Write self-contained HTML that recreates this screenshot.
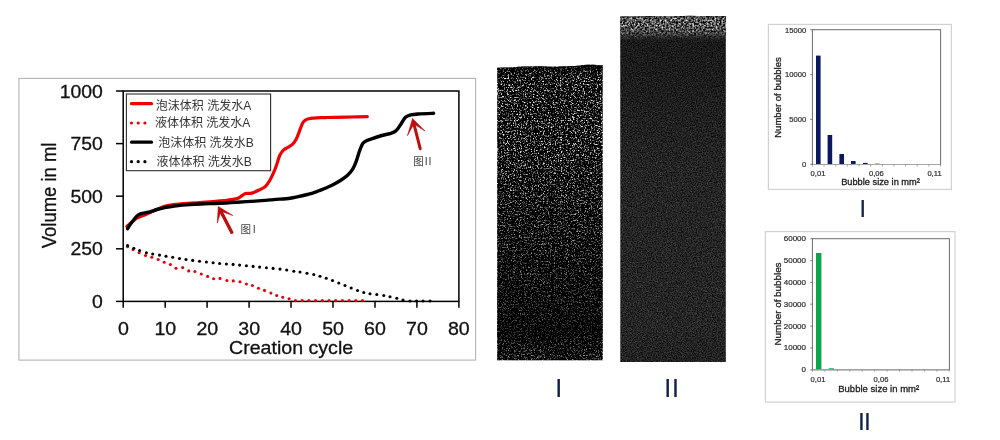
<!DOCTYPE html>
<html lang="zh">
<head>
<meta charset="utf-8">
<title>Foam volume and bubble size</title>
<style>
html,body{margin:0;padding:0;background:#fff;}
body{width:1000px;height:440px;overflow:hidden;position:relative;font-family:'Liberation Sans','Noto Sans CJK SC',sans-serif;}
</style>
</head>
<body>
<svg width="1000" height="440" viewBox="0 0 1000 440" style="display:block;position:absolute;left:0;top:0" font-family="'Liberation Sans','Noto Sans CJK SC',sans-serif">
<defs>
<filter id="nz1" x="0" y="0" width="100%" height="100%" color-interpolation-filters="sRGB">
<feTurbulence type="fractalNoise" baseFrequency="0.7" numOctaves="2" seed="7" result="t"/>
<feColorMatrix in="t" type="matrix" values="0 0 0 3.4 -1.86  0 0 0 3.4 -1.86  0 0 0 3.4 -1.86  0 0 0 0 1"/>
<feGaussianBlur stdDeviation="0.4" result="ab"/>
<feTurbulence type="fractalNoise" baseFrequency="0.83" numOctaves="1" seed="29" result="u"/>
<feColorMatrix in="u" type="matrix" values="0 0 0 0 1  0 0 0 0 1  0 0 0 0 1  0 0 0 7.0 -4.2"/>
<feGaussianBlur stdDeviation="0.3" result="d"/>
<feMerge><feMergeNode in="ab"/><feMergeNode in="d"/></feMerge>
</filter>
<filter id="nz2" x="0" y="0" width="100%" height="100%" color-interpolation-filters="sRGB">
<feTurbulence type="fractalNoise" baseFrequency="0.8" numOctaves="2" seed="3" result="t"/>
<feColorMatrix in="t" type="matrix" values="0 0 0 0.42 -0.065  0 0 0 0.42 -0.065  0 0 0 0.42 -0.065  0 0 0 0 1"/>
<feGaussianBlur stdDeviation="0.35"/>
</filter>
<filter id="nz3" x="0" y="0" width="100%" height="100%" color-interpolation-filters="sRGB">
<feTurbulence type="fractalNoise" baseFrequency="0.55" numOctaves="2" seed="11" result="t"/>
<feColorMatrix in="t" type="matrix" values="0 0 0 2.1 -0.7  0 0 0 2.1 -0.7  0 0 0 2.1 -0.7  0 0 0 0 1"/>
<feGaussianBlur stdDeviation="0.4"/>
</filter>
<linearGradient id="g2" x1="0" y1="0" x2="0" y2="1">
<stop offset="0" stop-color="#fff" stop-opacity="1"/><stop offset="0.55" stop-color="#fff" stop-opacity="0.85"/><stop offset="1" stop-color="#fff" stop-opacity="0"/>
</linearGradient>
<mask id="m2"><rect x="620" y="16" width="106" height="24" fill="url(#g2)"/></mask>
<linearGradient id="sh1" gradientUnits="userSpaceOnUse" x1="0" y1="66" x2="0" y2="360.3">
<stop offset="0" stop-color="#000" stop-opacity="0.8"/><stop offset="0.012" stop-color="#000" stop-opacity="0.4"/><stop offset="0.04" stop-color="#000" stop-opacity="0"/><stop offset="0.3" stop-color="#000" stop-opacity="0.05"/><stop offset="0.55" stop-color="#000" stop-opacity="0.36"/><stop offset="0.78" stop-color="#000" stop-opacity="0.55"/><stop offset="0.9" stop-color="#000" stop-opacity="0.7"/><stop offset="0.96" stop-color="#000" stop-opacity="0.5"/><stop offset="1" stop-color="#000" stop-opacity="0.35"/>
</linearGradient>
<linearGradient id="sh2" gradientUnits="userSpaceOnUse" x1="0" y1="16" x2="0" y2="362">
<stop offset="0" stop-color="#000" stop-opacity="0.55"/><stop offset="0.006" stop-color="#000" stop-opacity="0"/><stop offset="0.05" stop-color="#000" stop-opacity="0"/><stop offset="0.075" stop-color="#000" stop-opacity="0.3"/><stop offset="0.2" stop-color="#000" stop-opacity="0.22"/><stop offset="0.45" stop-color="#000" stop-opacity="0.02"/><stop offset="0.9" stop-color="#000" stop-opacity="0"/><stop offset="1" stop-color="#000" stop-opacity="0.12"/>
</linearGradient>
<clipPath id="c1"><path d="M497.2,67.8 L505,67.6 L514,67.2 L521,66.6 L530,66.4 L538,66.2 L546,66.5 L552,66.7 L560,66.5 L568,66.3 L575,66 L580,65.6 L586,64.8 L594,64.8 L599,65.2 L602.7,65.3 L602.7,360.3 L497.2,360.3 Z"/></clipPath>
<clipPath id="c2"><path d="M620.3,16.6 L640,16.4 L655,16 L670,16.6 L690,15.8 L705,16.2 L725.8,16.2 L725.8,362 L620.3,362 Z"/></clipPath>
</defs>
<rect width="1000" height="440" fill="#fff"/>
<g id="leftchart">
<rect x="18.9" y="78.4" width="456.7" height="281.7" fill="#fff" stroke="#b4b4b4" stroke-width="1.1"/>
<rect x="123.2" y="91.0" width="335.7" height="210.4" fill="none" stroke="#000" stroke-width="1.5"/>
<line x1="116.0" y1="91.0" x2="123.2" y2="91.0" stroke="#000" stroke-width="1.5"/>
<line x1="116.0" y1="143.6" x2="123.2" y2="143.6" stroke="#000" stroke-width="1.5"/>
<line x1="116.0" y1="196.2" x2="123.2" y2="196.2" stroke="#000" stroke-width="1.5"/>
<line x1="116.0" y1="248.8" x2="123.2" y2="248.8" stroke="#000" stroke-width="1.5"/>
<line x1="116.0" y1="301.4" x2="123.2" y2="301.4" stroke="#000" stroke-width="1.5"/>
<line x1="123.2" y1="301.4" x2="123.2" y2="307.7" stroke="#000" stroke-width="1.5"/>
<line x1="165.2" y1="301.4" x2="165.2" y2="307.7" stroke="#000" stroke-width="1.5"/>
<line x1="207.1" y1="301.4" x2="207.1" y2="307.7" stroke="#000" stroke-width="1.5"/>
<line x1="249.1" y1="301.4" x2="249.1" y2="307.7" stroke="#000" stroke-width="1.5"/>
<line x1="291.0" y1="301.4" x2="291.0" y2="307.7" stroke="#000" stroke-width="1.5"/>
<line x1="333.0" y1="301.4" x2="333.0" y2="307.7" stroke="#000" stroke-width="1.5"/>
<line x1="375.0" y1="301.4" x2="375.0" y2="307.7" stroke="#000" stroke-width="1.5"/>
<line x1="416.9" y1="301.4" x2="416.9" y2="307.7" stroke="#000" stroke-width="1.5"/>
<line x1="458.9" y1="301.4" x2="458.9" y2="307.7" stroke="#000" stroke-width="1.5"/>
<text transform="translate(102.9,97.5) scale(1.06,1)" font-size="18.3" text-anchor="end" fill="#111" stroke="#111" stroke-width="0.3">1000</text>
<text transform="translate(102.9,150.1) scale(1.06,1)" font-size="18.3" text-anchor="end" fill="#111" stroke="#111" stroke-width="0.3">750</text>
<text transform="translate(102.9,202.7) scale(1.06,1)" font-size="18.3" text-anchor="end" fill="#111" stroke="#111" stroke-width="0.3">500</text>
<text transform="translate(102.9,255.2) scale(1.06,1)" font-size="18.3" text-anchor="end" fill="#111" stroke="#111" stroke-width="0.3">250</text>
<text transform="translate(102.9,307.8) scale(1.06,1)" font-size="18.3" text-anchor="end" fill="#111" stroke="#111" stroke-width="0.3">0</text>
<text transform="translate(123.4,334.5) scale(1.07,1)" font-size="18.3" text-anchor="middle" fill="#111" stroke="#111" stroke-width="0.3">0</text>
<text transform="translate(165.3,334.5) scale(1.07,1)" font-size="18.3" text-anchor="middle" fill="#111" stroke="#111" stroke-width="0.3">10</text>
<text transform="translate(207.3,334.5) scale(1.07,1)" font-size="18.3" text-anchor="middle" fill="#111" stroke="#111" stroke-width="0.3">20</text>
<text transform="translate(249.2,334.5) scale(1.07,1)" font-size="18.3" text-anchor="middle" fill="#111" stroke="#111" stroke-width="0.3">30</text>
<text transform="translate(291.1,334.5) scale(1.07,1)" font-size="18.3" text-anchor="middle" fill="#111" stroke="#111" stroke-width="0.3">40</text>
<text transform="translate(333.1,334.5) scale(1.07,1)" font-size="18.3" text-anchor="middle" fill="#111" stroke="#111" stroke-width="0.3">50</text>
<text transform="translate(375.0,334.5) scale(1.07,1)" font-size="18.3" text-anchor="middle" fill="#111" stroke="#111" stroke-width="0.3">60</text>
<text transform="translate(416.9,334.5) scale(1.07,1)" font-size="18.3" text-anchor="middle" fill="#111" stroke="#111" stroke-width="0.3">70</text>
<text transform="translate(458.8,334.5) scale(1.07,1)" font-size="18.3" text-anchor="middle" fill="#111" stroke="#111" stroke-width="0.3">80</text>
<text transform="translate(291.1,353.8) scale(1.06,1)" font-size="18.5" text-anchor="middle" fill="#111" stroke="#111" stroke-width="0.3">Creation cycle</text>
<text transform="translate(56.0,195.4) rotate(-90) scale(0.9,1)" font-size="20.5" text-anchor="middle" fill="#111" stroke="#111" stroke-width="0.3">Volume in ml</text>
<circle cx="127.6" cy="246.7" r="1.55" fill="#e8000b"/><circle cx="133.1" cy="249.6" r="1.55" fill="#e8000b"/><circle cx="139.1" cy="252.7" r="1.55" fill="#e8000b"/><circle cx="145.5" cy="255.5" r="1.55" fill="#e8000b"/><circle cx="151.8" cy="257.3" r="1.55" fill="#e8000b"/><circle cx="158.2" cy="259.5" r="1.55" fill="#e8000b"/><circle cx="164.2" cy="262.2" r="1.55" fill="#e8000b"/><circle cx="170.4" cy="264.5" r="1.55" fill="#e8000b"/><circle cx="176.0" cy="268.2" r="1.55" fill="#e8000b"/><circle cx="182.7" cy="267.6" r="1.55" fill="#e8000b"/><circle cx="188.7" cy="270.9" r="1.55" fill="#e8000b"/><circle cx="194.9" cy="271.5" r="1.55" fill="#e8000b"/><circle cx="201.3" cy="274.0" r="1.55" fill="#e8000b"/><circle cx="207.6" cy="276.4" r="1.55" fill="#e8000b"/><circle cx="213.6" cy="278.7" r="1.55" fill="#e8000b"/><circle cx="220.0" cy="278.4" r="1.55" fill="#e8000b"/><circle cx="226.9" cy="280.5" r="1.55" fill="#e8000b"/><circle cx="233.3" cy="280.9" r="1.55" fill="#e8000b"/><circle cx="240.0" cy="281.8" r="1.55" fill="#e8000b"/><circle cx="246.4" cy="284.0" r="1.55" fill="#e8000b"/><circle cx="252.4" cy="285.5" r="1.55" fill="#e8000b"/><circle cx="258.5" cy="288.2" r="1.55" fill="#e8000b"/><circle cx="264.5" cy="290.4" r="1.55" fill="#e8000b"/><circle cx="270.9" cy="293.1" r="1.55" fill="#e8000b"/><circle cx="276.7" cy="295.5" r="1.55" fill="#e8000b"/><circle cx="282.7" cy="297.3" r="1.55" fill="#e8000b"/><circle cx="289.1" cy="298.7" r="1.55" fill="#e8000b"/><circle cx="295.5" cy="300.6" r="1.55" fill="#e8000b"/><circle cx="302.2" cy="300.6" r="1.55" fill="#e8000b"/><circle cx="308.9" cy="300.6" r="1.55" fill="#e8000b"/><circle cx="315.6" cy="300.6" r="1.55" fill="#e8000b"/><circle cx="322.3" cy="300.6" r="1.55" fill="#e8000b"/><circle cx="329.0" cy="300.6" r="1.55" fill="#e8000b"/><circle cx="335.7" cy="300.6" r="1.55" fill="#e8000b"/><circle cx="342.4" cy="300.6" r="1.55" fill="#e8000b"/><circle cx="349.1" cy="300.6" r="1.55" fill="#e8000b"/><circle cx="355.8" cy="300.6" r="1.55" fill="#e8000b"/><circle cx="362.5" cy="300.6" r="1.55" fill="#e8000b"/>
<circle cx="127.6" cy="245.5" r="1.55" fill="#000"/><circle cx="133.8" cy="248.2" r="1.55" fill="#000"/><circle cx="139.6" cy="250.5" r="1.55" fill="#000"/><circle cx="146.4" cy="252.7" r="1.55" fill="#000"/><circle cx="152.7" cy="254.0" r="1.55" fill="#000"/><circle cx="159.5" cy="255.1" r="1.55" fill="#000"/><circle cx="166.0" cy="256.2" r="1.55" fill="#000"/><circle cx="172.7" cy="257.3" r="1.55" fill="#000"/><circle cx="179.5" cy="258.5" r="1.55" fill="#000"/><circle cx="186.0" cy="259.5" r="1.55" fill="#000"/><circle cx="192.7" cy="260.4" r="1.55" fill="#000"/><circle cx="199.5" cy="261.3" r="1.55" fill="#000"/><circle cx="206.4" cy="262.0" r="1.55" fill="#000"/><circle cx="213.1" cy="262.7" r="1.55" fill="#000"/><circle cx="219.6" cy="263.5" r="1.55" fill="#000"/><circle cx="226.4" cy="264.0" r="1.55" fill="#000"/><circle cx="233.1" cy="264.4" r="1.55" fill="#000"/><circle cx="239.6" cy="265.1" r="1.55" fill="#000"/><circle cx="246.4" cy="265.8" r="1.55" fill="#000"/><circle cx="253.1" cy="266.4" r="1.55" fill="#000"/><circle cx="259.6" cy="267.1" r="1.55" fill="#000"/><circle cx="266.4" cy="267.8" r="1.55" fill="#000"/><circle cx="273.1" cy="268.4" r="1.55" fill="#000"/><circle cx="280.0" cy="269.1" r="1.55" fill="#000"/><circle cx="286.7" cy="270.0" r="1.55" fill="#000"/><circle cx="293.8" cy="271.3" r="1.55" fill="#000"/><circle cx="300.0" cy="272.0" r="1.55" fill="#000"/><circle cx="307.0" cy="273.3" r="1.55" fill="#000"/><circle cx="313.8" cy="274.5" r="1.55" fill="#000"/><circle cx="320.0" cy="276.3" r="1.55" fill="#000"/><circle cx="326.2" cy="278.3" r="1.55" fill="#000"/><circle cx="332.5" cy="280.5" r="1.55" fill="#000"/><circle cx="338.8" cy="283.0" r="1.55" fill="#000"/><circle cx="345.0" cy="285.5" r="1.55" fill="#000"/><circle cx="351.2" cy="288.0" r="1.55" fill="#000"/><circle cx="357.5" cy="290.5" r="1.55" fill="#000"/><circle cx="363.8" cy="292.5" r="1.55" fill="#000"/><circle cx="370.0" cy="293.8" r="1.55" fill="#000"/><circle cx="376.8" cy="294.5" r="1.55" fill="#000"/><circle cx="383.8" cy="295.5" r="1.55" fill="#000"/><circle cx="390.0" cy="296.8" r="1.55" fill="#000"/><circle cx="396.8" cy="298.3" r="1.55" fill="#000"/><circle cx="403.0" cy="300.0" r="1.55" fill="#000"/><circle cx="410.0" cy="301.0" r="1.55" fill="#000"/><circle cx="416.5" cy="301.0" r="1.55" fill="#000"/><circle cx="423.0" cy="301.0" r="1.55" fill="#000"/><circle cx="430.0" cy="301.0" r="1.55" fill="#000"/>
<path d="M126.9,226.4C127.8,225.7 130.3,223.4 132.0,222.0C133.7,220.6 134.9,219.1 137.3,217.8C139.7,216.5 143.4,215.5 146.4,214.2C149.4,212.9 152.5,211.3 155.5,210.0C158.5,208.7 161.5,207.3 164.5,206.4C167.5,205.5 169.0,205.1 173.6,204.5C178.2,203.9 185.7,203.5 191.8,203.1C197.9,202.7 203.9,202.3 210.0,201.8C216.1,201.3 223.6,200.6 228.2,200.0C232.8,199.4 235.2,199.1 237.3,198.5C239.4,197.9 239.5,197.2 240.9,196.4C242.3,195.6 243.7,194.2 245.5,193.6C247.3,193.0 249.5,193.7 251.8,193.1C254.1,192.5 256.8,191.1 259.1,190.0C261.4,188.9 263.7,188.1 265.5,186.4C267.3,184.7 268.6,182.3 270.0,180.0C271.4,177.7 272.5,175.1 273.6,172.7C274.7,170.3 275.4,168.3 276.4,165.5C277.4,162.7 278.4,158.5 279.5,156.0C280.6,153.5 281.7,151.9 283.0,150.5C284.3,149.1 285.9,148.6 287.5,147.5C289.1,146.4 291.3,145.5 292.7,144.2C294.1,142.9 295.0,141.3 296.0,139.5C297.0,137.7 297.8,135.6 298.6,133.5C299.4,131.4 300.2,128.9 301.0,127.0C301.8,125.0 302.4,123.1 303.5,121.8C304.6,120.5 305.9,119.7 307.3,119.1C308.7,118.5 310.5,118.4 312.0,118.2C313.5,118.0 314.2,117.9 316.4,117.8C318.6,117.7 322.0,117.7 325.0,117.6C328.0,117.5 330.3,117.4 334.5,117.3C338.7,117.2 344.5,117.1 350.0,117.0C355.5,116.9 364.4,116.8 367.3,116.7" fill="none" stroke="#f00000" stroke-width="3.2" stroke-linecap="round" stroke-linejoin="round"/>
<path d="M127.6,228.7C128.1,227.9 129.5,225.4 130.5,224.0C131.5,222.6 132.6,221.2 133.6,220.0C134.6,218.8 135.4,217.5 136.5,216.5C137.6,215.5 138.6,214.6 140.0,214.0C141.4,213.4 143.3,213.2 145.0,212.8C146.7,212.4 148.0,212.4 150.0,211.8C152.0,211.2 154.6,210.2 157.0,209.5C159.4,208.8 161.8,208.2 164.5,207.6C167.2,207.0 170.0,206.6 173.0,206.2C176.0,205.8 178.0,205.5 182.7,205.1C187.3,204.7 194.8,204.3 200.9,204.0C207.0,203.7 213.0,203.6 219.1,203.3C225.2,203.0 231.2,202.6 237.3,202.2C243.4,201.8 249.4,201.5 255.5,201.1C261.6,200.7 267.9,200.1 273.6,199.6C279.4,199.1 285.9,198.7 290.0,198.2C294.1,197.7 295.3,197.2 298.2,196.6C301.1,196.0 304.7,195.2 307.3,194.5C309.9,193.8 311.9,193.3 314.0,192.6C316.1,191.9 318.0,191.1 320.0,190.3C322.0,189.5 323.8,188.9 326.0,188.0C328.2,187.1 330.7,186.0 333.0,184.8C335.3,183.6 337.6,182.3 340.0,180.8C342.4,179.3 345.2,177.6 347.3,175.6C349.4,173.6 351.2,171.5 352.7,169.1C354.2,166.7 355.3,163.9 356.4,160.9C357.5,157.9 358.4,153.9 359.5,151.0C360.6,148.1 361.6,145.3 362.7,143.6C363.8,141.9 364.6,141.8 366.0,141.0C367.4,140.2 368.3,140.0 370.9,139.1C373.5,138.2 378.5,136.5 381.8,135.5C385.1,134.5 388.7,134.0 390.9,133.3C393.1,132.6 393.8,132.3 395.0,131.5C396.2,130.7 397.1,129.7 398.2,128.2C399.3,126.7 400.6,124.5 401.8,122.7C403.0,120.9 404.0,118.6 405.5,117.3C407.0,116.0 408.8,115.5 410.9,114.9C413.0,114.4 414.4,114.3 418.2,114.0C422.0,113.7 431.0,113.4 433.6,113.3" fill="none" stroke="#000" stroke-width="3.4" stroke-linecap="round" stroke-linejoin="round"/>
<rect x="126.4" y="94.0" width="144.2" height="76.7" fill="#fff" stroke="#2e2e2e" stroke-width="1.1"/>
<line x1="131.5" y1="103.7" x2="151.5" y2="103.7" stroke="#f00000" stroke-width="3.2" stroke-linecap="round"/>
<circle cx="131.5" cy="123.0" r="1.6" fill="#e8000b"/><circle cx="138.2" cy="123.0" r="1.6" fill="#e8000b"/><circle cx="144.9" cy="123.0" r="1.6" fill="#e8000b"/>
<line x1="131.5" y1="142.2" x2="151.5" y2="142.2" stroke="#000" stroke-width="3.2" stroke-linecap="round"/>
<circle cx="131.5" cy="161.7" r="1.6" fill="#000"/><circle cx="138.2" cy="161.7" r="1.6" fill="#000"/><circle cx="144.9" cy="161.7" r="1.6" fill="#000"/>
<text x="155.8" y="109.9" font-size="12" fill="#333" textLength="95.5" lengthAdjust="spacingAndGlyphs">泡沫体积 洗发水A</text>
<text x="154.9" y="127.1" font-size="12" fill="#333" textLength="95.5" lengthAdjust="spacingAndGlyphs">液体体积 洗发水A</text>
<text x="158.2" y="146.8" font-size="12" fill="#333" textLength="95.5" lengthAdjust="spacingAndGlyphs">泡沫体积 洗发水B</text>
<text x="156.4" y="166.2" font-size="12" fill="#333" textLength="95.5" lengthAdjust="spacingAndGlyphs">液体体积 洗发水B</text>
<text x="250.3" y="166.3" font-size="7" fill="#9a9a9a">.</text>
<path d="M220.8,211.2 L231.8,232.4" stroke="#c00d0d" stroke-width="3.3" fill="none" stroke-linecap="round"/><path d="M218.3,206.5 L217.3,223.1 L220.8,211.2 L232.8,215.5 Z" fill="#c00d0d" stroke="#c00d0d" stroke-width="0.6" stroke-linejoin="round"/>
<path d="M413.9,123.9 L420.2,148.7" stroke="#c00d0d" stroke-width="3.0" fill="none" stroke-linecap="round"/><path d="M412.5,118.5 L407.5,135.6 L413.9,123.9 L425,131.1 Z" fill="#c00d0d" stroke="#c00d0d" stroke-width="0.6" stroke-linejoin="round"/>
<text x="240.6" y="232.6" font-size="10.6" fill="#444">图<tspan dx="1.6">I</tspan></text>
<text x="413.2" y="164.9" font-size="10.6" fill="#444">图<tspan dx="1" letter-spacing="0.9">II</tspan></text>
</g>
<g id="photos">
<g clip-path="url(#c1)"><rect x="496" y="64" width="108" height="298" filter="url(#nz1)" fill="#000"/><rect x="496" y="64" width="108" height="298" fill="url(#sh1)"/></g>
<g clip-path="url(#c2)"><rect x="619" y="14" width="108" height="350" filter="url(#nz2)" fill="#000"/>
<g mask="url(#m2)"><rect x="619" y="14" width="108" height="28" filter="url(#nz3)" fill="#000"/></g><rect x="619" y="14" width="108" height="350" fill="url(#sh2)"/></g>
<text transform="translate(558.8,396.8)" font-size="25" text-anchor="middle" fill="#10224a" stroke="#10224a" stroke-width="0.2">I</text>
<text transform="translate(671.9,396.8)" font-size="25" text-anchor="middle" fill="#10224a" stroke="#10224a" stroke-width="0.2" letter-spacing="0.8">II</text>
</g>
<g id="hist1">
<rect x="768.4" y="24.4" width="183" height="165.0" fill="#fff" stroke="#d2d2d2" stroke-width="1.2"/>
<rect x="816" y="55.6" width="4.6" height="108.9" fill="#0b1a5e"/>
<rect x="827.6" y="135" width="4.6" height="29.5" fill="#0b1a5e"/>
<rect x="839.4" y="154" width="4.6" height="10.5" fill="#0b1a5e"/>
<rect x="851" y="161" width="4.6" height="3.5" fill="#0b1a5e"/>
<rect x="863" y="162.9" width="4.6" height="1.6" fill="#0b1a5e"/>
<rect x="875" y="163.7" width="4.6" height="0.8" fill="#0b1a5e"/>
<rect x="812.4" y="29.7" width="128.2" height="134.8" fill="none" stroke="#6a6a6a" stroke-width="1"/>
<line x1="813" y1="164.5" x2="940" y2="164.5" stroke="#a6a6a6" stroke-width="1"/>
<line x1="810.2" y1="29.7" x2="812.4" y2="29.7" stroke="#666" stroke-width="0.8"/>
<text transform="translate(806.2,32.5)" font-size="7.6" text-anchor="end" fill="#2b2b2b" stroke="#2b2b2b" stroke-width="0.2">15000</text>
<line x1="810.2" y1="74.6" x2="812.4" y2="74.6" stroke="#666" stroke-width="0.8"/>
<text transform="translate(806.2,77.3)" font-size="7.6" text-anchor="end" fill="#2b2b2b" stroke="#2b2b2b" stroke-width="0.2">10000</text>
<line x1="810.2" y1="119.4" x2="812.4" y2="119.4" stroke="#666" stroke-width="0.8"/>
<text transform="translate(806.2,122.2)" font-size="7.6" text-anchor="end" fill="#2b2b2b" stroke="#2b2b2b" stroke-width="0.2">5000</text>
<line x1="810.2" y1="164.3" x2="812.4" y2="164.3" stroke="#666" stroke-width="0.8"/>
<text transform="translate(806.2,167.1)" font-size="7.6" text-anchor="end" fill="#2b2b2b" stroke="#2b2b2b" stroke-width="0.2">0</text>
<line x1="812.4" y1="164.5" x2="812.4" y2="166.6" stroke="#8a8a8a" stroke-width="0.7"/>
<line x1="824.0" y1="164.5" x2="824.0" y2="166.6" stroke="#8a8a8a" stroke-width="0.7"/>
<line x1="835.7" y1="164.5" x2="835.7" y2="166.6" stroke="#8a8a8a" stroke-width="0.7"/>
<line x1="847.4" y1="164.5" x2="847.4" y2="166.6" stroke="#8a8a8a" stroke-width="0.7"/>
<line x1="859.0" y1="164.5" x2="859.0" y2="166.6" stroke="#8a8a8a" stroke-width="0.7"/>
<line x1="870.6" y1="164.5" x2="870.6" y2="166.6" stroke="#8a8a8a" stroke-width="0.7"/>
<line x1="882.3" y1="164.5" x2="882.3" y2="166.6" stroke="#8a8a8a" stroke-width="0.7"/>
<line x1="893.9" y1="164.5" x2="893.9" y2="166.6" stroke="#8a8a8a" stroke-width="0.7"/>
<line x1="905.6" y1="164.5" x2="905.6" y2="166.6" stroke="#8a8a8a" stroke-width="0.7"/>
<line x1="917.2" y1="164.5" x2="917.2" y2="166.6" stroke="#8a8a8a" stroke-width="0.7"/>
<line x1="928.9" y1="164.5" x2="928.9" y2="166.6" stroke="#8a8a8a" stroke-width="0.7"/>
<line x1="940.5" y1="164.5" x2="940.5" y2="166.6" stroke="#8a8a8a" stroke-width="0.7"/>
<text transform="translate(818,176.4)" font-size="7.6" text-anchor="middle" fill="#2b2b2b" stroke="#2b2b2b" stroke-width="0.2">0,01</text>
<text transform="translate(876.3,176.4)" font-size="7.6" text-anchor="middle" fill="#2b2b2b" stroke="#2b2b2b" stroke-width="0.2">0,06</text>
<text transform="translate(934.5,176.4)" font-size="7.6" text-anchor="middle" fill="#2b2b2b" stroke="#2b2b2b" stroke-width="0.2">0,11</text>
<text transform="translate(880.5,185.3) scale(1.03,1)" font-size="9" text-anchor="middle" fill="#1c1c1c" stroke="#1c1c1c" stroke-width="0.3">Bubble size in mm²</text>
<text transform="translate(781.0,97.5) rotate(-90) scale(1.06,1)" font-size="9" text-anchor="middle" fill="#1c1c1c" stroke="#1c1c1c" stroke-width="0.3">Number of bubbles</text>
<text transform="translate(862.8,216.6)" font-size="23.5" text-anchor="middle" fill="#10224a" stroke="#10224a" stroke-width="0.2">I</text>
</g>
<g id="hist2">
<rect x="765.4" y="231.6" width="189.6" height="170.5" fill="#fff" stroke="#d2d2d2" stroke-width="1.2"/>
<rect x="816" y="253" width="5.4" height="116.8" fill="#0aa64f"/>
<rect x="828.6" y="368.3" width="5.4" height="1.5" fill="#0aa64f"/>
<rect x="812.4" y="238.7" width="137" height="131.1" fill="none" stroke="#6a6a6a" stroke-width="1"/>
<line x1="813" y1="369.8" x2="948.8" y2="369.8" stroke="#a6a6a6" stroke-width="1"/>
<line x1="810.2" y1="238.7" x2="812.4" y2="238.7" stroke="#666" stroke-width="0.8"/>
<text transform="translate(806.0,241.1)" font-size="8" text-anchor="end" fill="#2b2b2b" stroke="#2b2b2b" stroke-width="0.2">60000</text>
<line x1="810.2" y1="260.6" x2="812.4" y2="260.6" stroke="#666" stroke-width="0.8"/>
<text transform="translate(806.0,262.9)" font-size="8" text-anchor="end" fill="#2b2b2b" stroke="#2b2b2b" stroke-width="0.2">50000</text>
<line x1="810.2" y1="282.4" x2="812.4" y2="282.4" stroke="#666" stroke-width="0.8"/>
<text transform="translate(806.0,284.8)" font-size="8" text-anchor="end" fill="#2b2b2b" stroke="#2b2b2b" stroke-width="0.2">40000</text>
<line x1="810.2" y1="304.2" x2="812.4" y2="304.2" stroke="#666" stroke-width="0.8"/>
<text transform="translate(806.0,306.6)" font-size="8" text-anchor="end" fill="#2b2b2b" stroke="#2b2b2b" stroke-width="0.2">30000</text>
<line x1="810.2" y1="326.1" x2="812.4" y2="326.1" stroke="#666" stroke-width="0.8"/>
<text transform="translate(806.0,328.5)" font-size="8" text-anchor="end" fill="#2b2b2b" stroke="#2b2b2b" stroke-width="0.2">20000</text>
<line x1="810.2" y1="347.9" x2="812.4" y2="347.9" stroke="#666" stroke-width="0.8"/>
<text transform="translate(806.0,350.3)" font-size="8" text-anchor="end" fill="#2b2b2b" stroke="#2b2b2b" stroke-width="0.2">10000</text>
<line x1="810.2" y1="369.8" x2="812.4" y2="369.8" stroke="#666" stroke-width="0.8"/>
<text transform="translate(806.0,372.2)" font-size="8" text-anchor="end" fill="#2b2b2b" stroke="#2b2b2b" stroke-width="0.2">0</text>
<line x1="812.4" y1="369.8" x2="812.4" y2="371.8" stroke="#8a8a8a" stroke-width="0.7"/>
<line x1="824.9" y1="369.8" x2="824.9" y2="371.8" stroke="#8a8a8a" stroke-width="0.7"/>
<line x1="837.3" y1="369.8" x2="837.3" y2="371.8" stroke="#8a8a8a" stroke-width="0.7"/>
<line x1="849.8" y1="369.8" x2="849.8" y2="371.8" stroke="#8a8a8a" stroke-width="0.7"/>
<line x1="862.2" y1="369.8" x2="862.2" y2="371.8" stroke="#8a8a8a" stroke-width="0.7"/>
<line x1="874.6" y1="369.8" x2="874.6" y2="371.8" stroke="#8a8a8a" stroke-width="0.7"/>
<line x1="887.1" y1="369.8" x2="887.1" y2="371.8" stroke="#8a8a8a" stroke-width="0.7"/>
<line x1="899.5" y1="369.8" x2="899.5" y2="371.8" stroke="#8a8a8a" stroke-width="0.7"/>
<line x1="912.0" y1="369.8" x2="912.0" y2="371.8" stroke="#8a8a8a" stroke-width="0.7"/>
<line x1="924.4" y1="369.8" x2="924.4" y2="371.8" stroke="#8a8a8a" stroke-width="0.7"/>
<line x1="936.9" y1="369.8" x2="936.9" y2="371.8" stroke="#8a8a8a" stroke-width="0.7"/>
<line x1="949.3" y1="369.8" x2="949.3" y2="371.8" stroke="#8a8a8a" stroke-width="0.7"/>
<text transform="translate(818,381.5)" font-size="7.6" text-anchor="middle" fill="#2b2b2b" stroke="#2b2b2b" stroke-width="0.2">0,01</text>
<text transform="translate(881,381.5)" font-size="7.6" text-anchor="middle" fill="#2b2b2b" stroke="#2b2b2b" stroke-width="0.2">0,06</text>
<text transform="translate(943,381.5)" font-size="7.6" text-anchor="middle" fill="#2b2b2b" stroke="#2b2b2b" stroke-width="0.2">0,11</text>
<text transform="translate(878.7,391.6) scale(1.035,1)" font-size="9.2" text-anchor="middle" fill="#1c1c1c" stroke="#1c1c1c" stroke-width="0.3">Bubble size in mm²</text>
<text transform="translate(780.6,304) rotate(-90) scale(1.07,1)" font-size="9.2" text-anchor="middle" fill="#1c1c1c" stroke="#1c1c1c" stroke-width="0.3">Number of bubbles</text>
<text transform="translate(864,430.4)" font-size="24.5" text-anchor="middle" fill="#10224a" stroke="#10224a" stroke-width="0.2" letter-spacing="-0.9">II</text>
</g>
</svg>
</body>
</html>
